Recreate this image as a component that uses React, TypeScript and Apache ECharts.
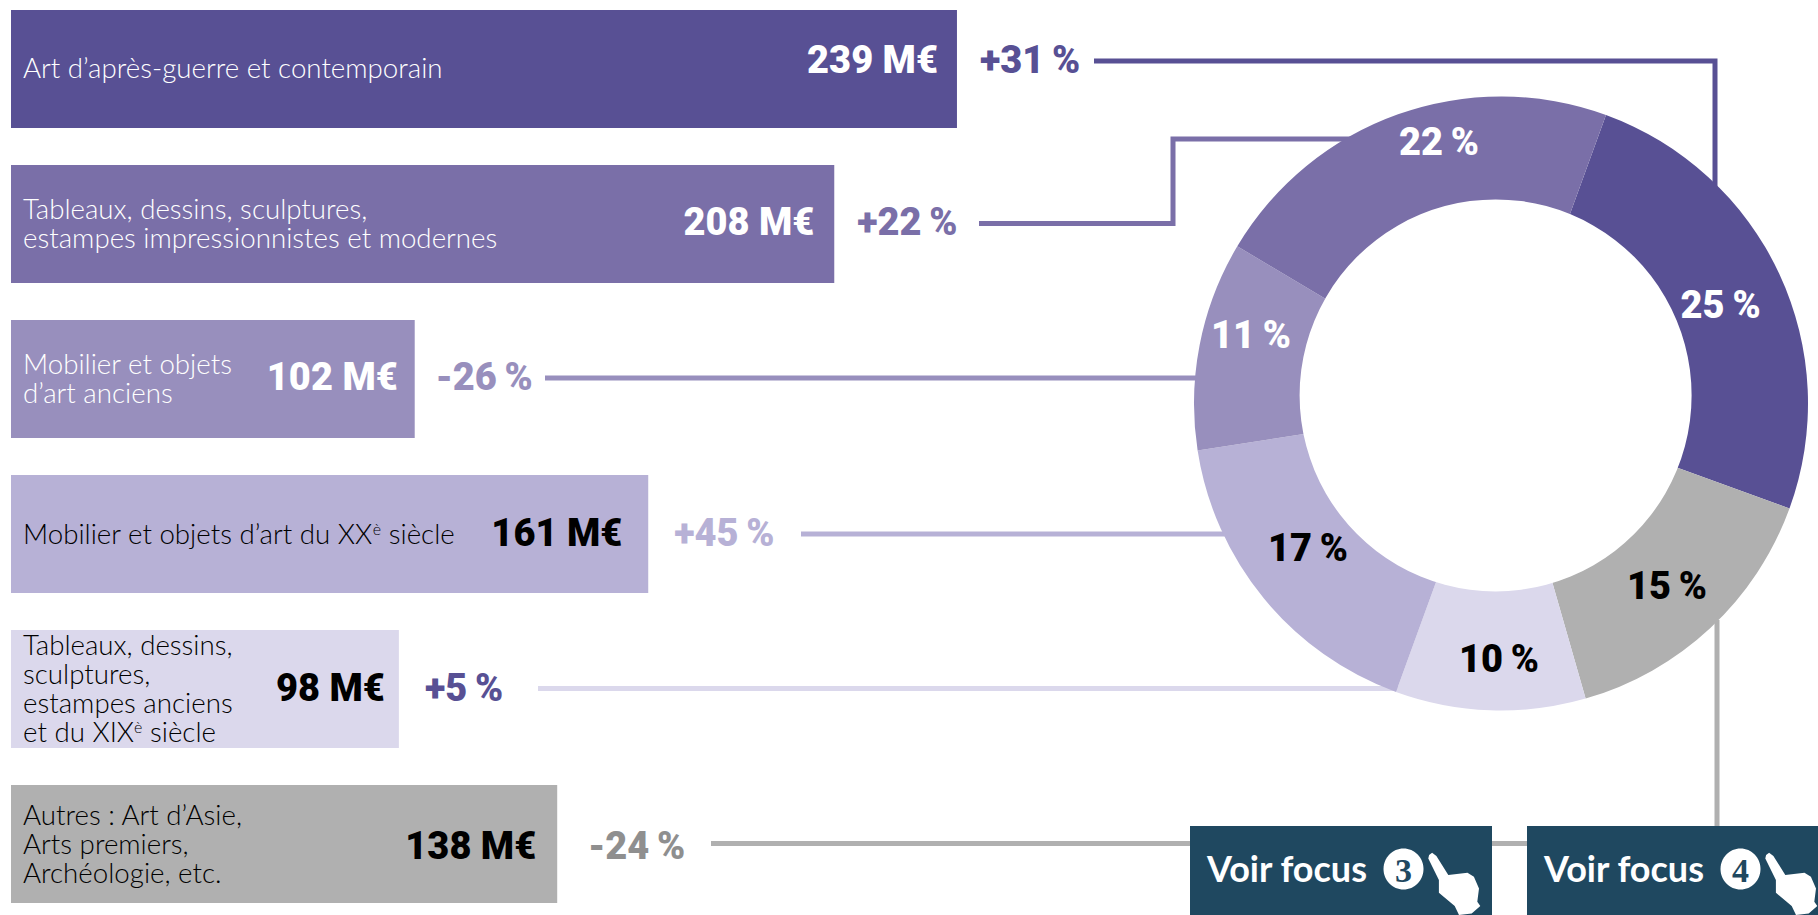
import React, { useEffect, useRef } from "react";
import * as echarts from "echarts";

const categories = [
  "Art d’après-guerre et contemporain",
  "Tableaux, dessins, sculptures,\nestampes impressionnistes et modernes",
  "Mobilier et objets\nd’art anciens",
  "Mobilier et objets d’art du XX^è siècle",
  "Tableaux, dessins,\nsculptures,\nestampes anciens\net du XIX^è siècle",
  "Autres : Art d’Asie,\nArts premiers,\nArchéologie, etc.",
];
const values = [239, 208, 102, 161, 98, 138];
const shares = [25, 22, 11, 17, 10, 15];
const changes = ["+31\u2009%", "+22\u2009%", "-26\u2009%", "+45\u2009%", "+5\u2009%", "-24\u2009%"];
const pieOrder = [0, 5, 4, 3, 2, 1];

const barColors = ["#585094", "#7A6FA8", "#988FBD", "#B7B1D6", "#DBD8EC", "#B0B0B0"];
const textColors = ["#fff", "#fff", "#fff", "#000", "#000", "#000"];
const changeColors = ["#585094", "#7A6FA8", "#988FBD", "#B7B1D6", "#585094", "#8F8F8F"];
const lineColors = barColors;

const valueDistance = [19, 20, 17, 26, 14, 21];
const valueOffsetY = [-9, -2, -2, -1, -1, 2];
const nameOffsetY = [-2, -1, -1, -1, -1, -1];
const changeDistance = [23, 23, 21, 26, 26, 31];
const changeOffsetY = [-9, -2, -2, -1, -1, 2];
const pieLabelPos: Record<number, [number, number]> = {
  0: [1720.6, 305],
  1: [1439, 141.5],
  2: [1251, 335],
  3: [1308, 548],
  4: [1499, 658.6],
  5: [1667, 585.5],
};

const BOLD = "Roboto";
const LATO = "Lato";
const BOLD_SIZE = 38;

const leaderLines: { pts: [number, number][]; color: string }[] = [
  { pts: [[1094, 61], [1715, 61], [1715, 190]], color: lineColors[0] },
  { pts: [[979, 223.5], [1173, 223.5], [1173, 139], [1370, 139]], color: lineColors[1] },
  { pts: [[545, 378], [1210, 378]], color: lineColors[2] },
  { pts: [[801, 534], [1240, 534]], color: lineColors[3] },
  { pts: [[538, 688.5], [1410, 688.5]], color: lineColors[4] },
  { pts: [[711, 843.5], [1530, 843.5]], color: lineColors[5] },
  { pts: [[1717, 620], [1717, 830]], color: lineColors[5] },
];

const handPath =
  "M2.1 3.3 L5.1 1 L9.4 4.3 L21.3 23.3 L29.8 22.3 L40.5 21 L46.9 25 L52 36.7 L50.3 50 L53.3 54.3 L44.7 61.7 L32 63.3 L27.7 54.3 L11.9 41 L11.9 28.3 L1.3 6.7 Z";
echarts.graphic.registerShape("hand", echarts.graphic.extendPath(handPath, {}) as any);

function button(x: number, w: number, num: string, cx: number, hx: number) {
  return [
    { type: "rect", z: 100, shape: { x, y: 826, width: w, height: 89 }, style: { fill: "#1F4860" } },
    { type: "text", z: 101, x: x + 17, y: 868, style: { text: "Voir focus", fill: "#fff", font: `700 36px ${LATO}`, verticalAlign: "middle" } },
    { type: "ellipse", z: 101, shape: { cx, cy: 869, rx: 20, ry: 20.5 }, style: { fill: "#fff" } },
    { type: "text", z: 102, x: cx, y: 870, style: { text: num, fill: "#1F4860", font: "700 34px 'Liberation Serif'", align: "center", verticalAlign: "middle" } },
    { type: "hand", z: 102, x: hx, y: 851.7, style: { fill: "#fff" } },
  ];
}

function richText(c: string) {
  return c
    .split("\n")
    .map((l) => l.split("^è").map((p) => `{txt|${p}}`).join("{sup|è}"))
    .join("\n");
}

export default function App() {
  const ref = useRef<HTMLDivElement>(null);
  useEffect(() => {
    document.body.style.margin = "0";
    document.body.style.background = "#fff";
    const chart = echarts.init(ref.current!, undefined, { renderer: "svg" });
    chart.setOption({
      animation: false,
      grid: { left: 11, top: -8.5, width: 989.5, height: 930, outerBoundsMode: "none" },
      xAxis: { type: "value", min: 0, max: 250, show: false },
      yAxis: { type: "category", inverse: true, show: false, data: categories },
      series: [
        {
          type: "bar", silent: true, barWidth: 118, barGap: "-100%", z: 3,
          data: values.map((v, i) => ({
            value: v,
            itemStyle: { color: barColors[i] },
            label: {
              show: true, position: "insideRight", distance: valueDistance[i],
              offset: [0, valueOffsetY[i]], formatter: `${v} M€`,
              color: textColors[i], fontFamily: BOLD, fontWeight: 900, fontSize: BOLD_SIZE,
            },
          })),
        },
        {
          type: "bar", silent: true, barWidth: 118, barGap: "-100%", z: 4,
          data: values.map((v, i) => ({
            value: v,
            itemStyle: { color: "transparent" },
            label: {
              show: true, position: "insideLeft", distance: 12,
              offset: [0, nameOffsetY[i]],
              formatter: richText(categories[i]),
              color: textColors[i],
              rich: {
                txt: { color: textColors[i], fontFamily: LATO, fontWeight: 300, fontSize: 27.7, lineHeight: 29 },
                sup: { color: textColors[i], fontFamily: LATO, fontWeight: 300, fontSize: 16, lineHeight: 29, padding: [0, 0, 10, 0] },
              },
            },
          })),
        },
        {
          type: "bar", silent: true, barWidth: 118, barGap: "-100%", z: 4,
          data: values.map((v, i) => ({
            value: v,
            itemStyle: { color: "transparent" },
            label: {
              show: true, position: "right", distance: changeDistance[i],
              offset: [0, changeOffsetY[i]], formatter: changes[i],
              color: changeColors[i], fontFamily: BOLD, fontWeight: 900, fontSize: BOLD_SIZE,
            },
          })),
        },
        {
          type: "pie", silent: true, z: 5,
          center: [1501, 403.5], radius: [100, 307], startAngle: 70, clockwise: true,
          avoidLabelOverlap: false,
          itemStyle: { borderWidth: 0 },
          label: {
            show: true, position: "inside", fontFamily: BOLD, fontWeight: 900, fontSize: BOLD_SIZE,
            formatter: (p: any) => `${p.value}\u2009%`,
          },
          labelLine: { show: false },
          labelLayout: (p: any) => {
            const pos = pieLabelPos[pieOrder[p.dataIndex]];
            return { x: pos[0], y: pos[1], align: "center", verticalAlign: "middle" };
          },
          data: pieOrder.map((i) => ({
            value: shares[i],
            name: categories[i],
            itemStyle: { color: barColors[i] },
            label: { color: textColors[i] },
          })),
        },
      ],
      graphic: [
        ...leaderLines.map((l) => ({
          type: "polyline", z: 0, shape: { points: l.pts },
          style: { stroke: l.color, lineWidth: 5, fill: "none" },
        })),
        { type: "circle", z: 50, shape: { cx: 1495.6, cy: 395.4, r: 196 }, style: { fill: "#fff" } },
        ...button(1190, 302, "3", 1403.5, 1427),
        ...button(1527, 291, "4", 1740.5, 1764),
      ],
    });
    return () => chart.dispose();
  }, []);
  return <div ref={ref} style={{ position: "absolute", left: 0, top: 0, width: 1818, height: 915 }} />;
}
